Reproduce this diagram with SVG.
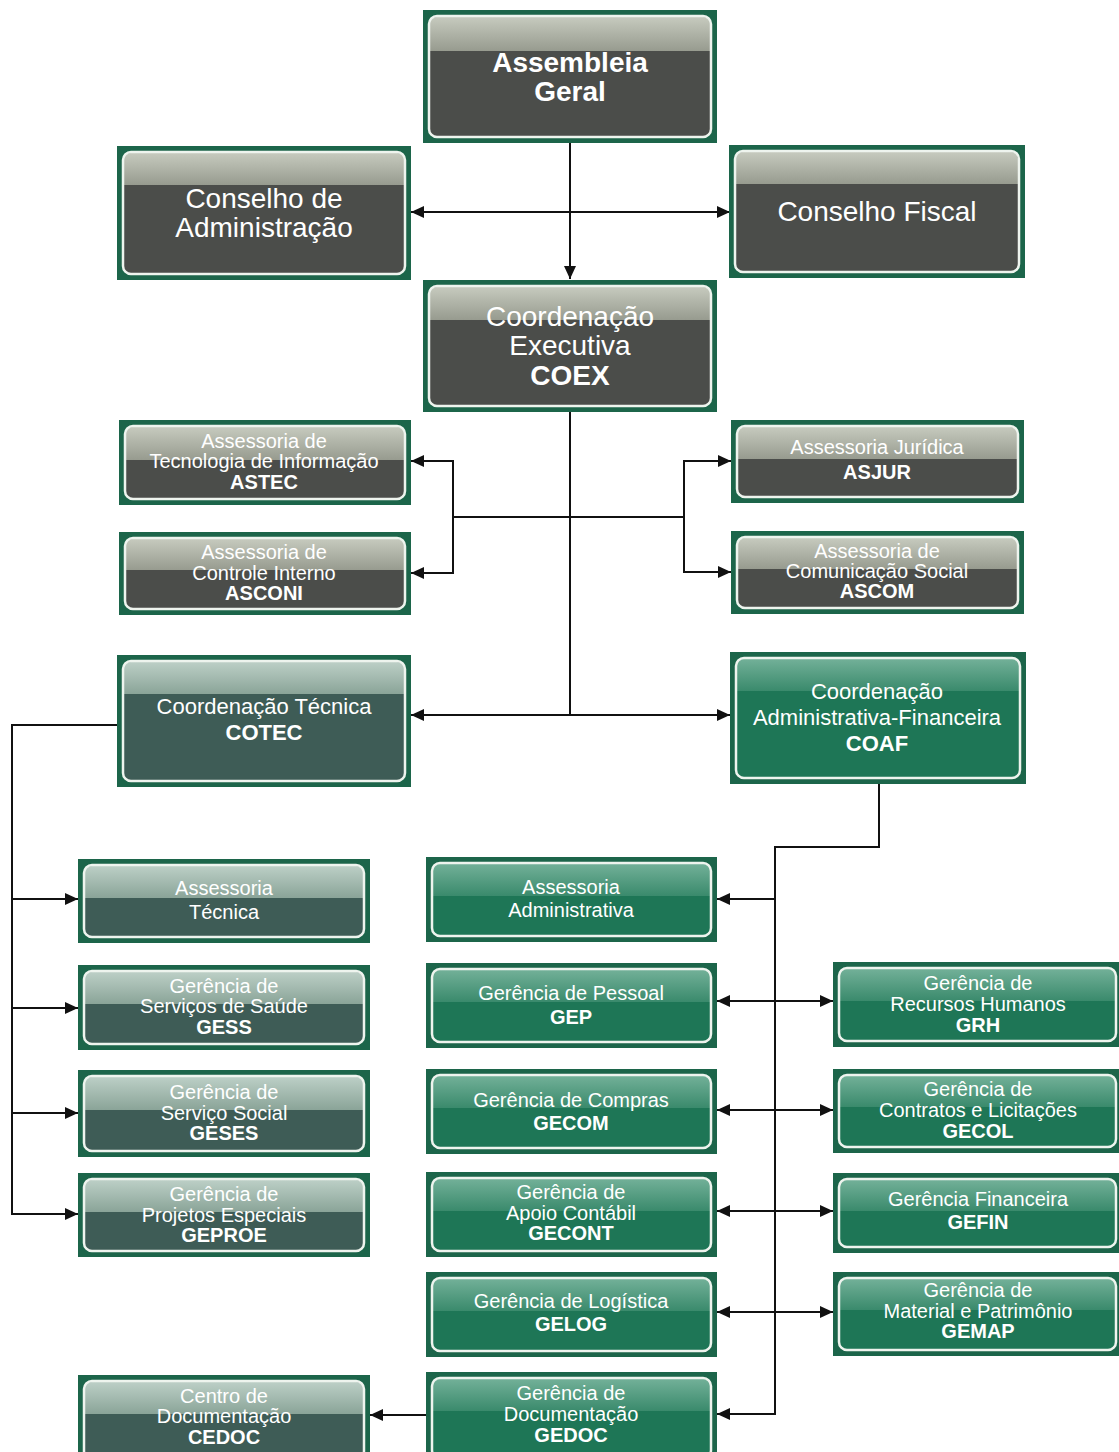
<svg xmlns="http://www.w3.org/2000/svg" width="1119" height="1452" viewBox="0 0 1119 1452">
<style>
.frame{fill:#1c654a}
.b-gray{fill:#4b4d4a}
.b-teal{fill:#3e5c56}
.b-green{fill:#1e7656}
.g-gray{fill:url(#glossGray)}
.g-teal{fill:url(#glossTeal)}
.g-green{fill:url(#glossGreen)}
.rim{fill:none;stroke:#eef4ee;stroke-width:2.5}
text{font-family:"Liberation Sans",Arial,sans-serif;fill:#ffffff;text-anchor:middle}
.big{font-size:28px}
.mid{font-size:22px}
.sm{font-size:20px}
.b{font-weight:bold}
.con{fill:none;stroke:#111;stroke-width:2}
</style>
<defs>
<linearGradient id="glossGray" x1="0" y1="0" x2="0" y2="1"><stop offset="0" stop-color="#c6cabe"/><stop offset="1" stop-color="#979b8f"/></linearGradient>
<linearGradient id="glossTeal" x1="0" y1="0" x2="0" y2="1"><stop offset="0" stop-color="#bccfc6"/><stop offset="1" stop-color="#8aa498"/></linearGradient>
<linearGradient id="glossGreen" x1="0" y1="0" x2="0" y2="1"><stop offset="0" stop-color="#72b098"/><stop offset="1" stop-color="#3a8a6c"/></linearGradient>
<marker id="arr" markerUnits="userSpaceOnUse" markerWidth="14" markerHeight="14" refX="13" refY="7" orient="auto-start-reverse"><path d="M0,1 L13,7 L0,13 Z" fill="#111"/></marker>
</defs>
<rect width="1119" height="1452" fill="#ffffff"/>

<g id="connectors">
<path class="con" d="M570,143 V279" marker-end="url(#arr)"/>
<path class="con" d="M411,212 H730" marker-start="url(#arr)" marker-end="url(#arr)"/>
<path class="con" d="M570,412 V715"/>
<path class="con" d="M411,715 H730" marker-start="url(#arr)" marker-end="url(#arr)"/>
<path class="con" d="M453,517 H684"/>
<path class="con" d="M411,461 H453 V573 H411" marker-start="url(#arr)" marker-end="url(#arr)"/>
<path class="con" d="M731,461 H684 V572 H731" marker-start="url(#arr)" marker-end="url(#arr)"/>
<path class="con" d="M117,725 H12 V1214 H78" marker-end="url(#arr)"/>
<path class="con" d="M12,899 H78" marker-end="url(#arr)"/>
<path class="con" d="M12,1008 H78" marker-end="url(#arr)"/>
<path class="con" d="M12,1113 H78" marker-end="url(#arr)"/>
<path class="con" d="M879,784 V847 H775 V1414 H717" marker-end="url(#arr)"/>
<path class="con" d="M775,899 H717" marker-end="url(#arr)"/>
<path class="con" d="M717,1001 H833" marker-start="url(#arr)" marker-end="url(#arr)"/>
<path class="con" d="M717,1110 H833" marker-start="url(#arr)" marker-end="url(#arr)"/>
<path class="con" d="M717,1211 H833" marker-start="url(#arr)" marker-end="url(#arr)"/>
<path class="con" d="M717,1312 H833" marker-start="url(#arr)" marker-end="url(#arr)"/>
<path class="con" d="M426,1415 H370" marker-end="url(#arr)"/>
</g>

<g id="assembleia">
<rect class="frame" x="423" y="10" width="294" height="133"/>
<rect class="b-gray" x="429" y="16" width="282" height="121" rx="8"/>
<path class="g-gray" d="M430,51 V24 Q430,17 437,17 H703 Q710,17 710,24 V51 Z"/>
<rect class="rim" x="429" y="16" width="282" height="121" rx="8"/>
<text class="big b" x="570" y="72">Assembleia</text>
<text class="big b" x="570" y="101">Geral</text>
</g>

<g id="conselho-adm">
<rect class="frame" x="117" y="146" width="294" height="134"/>
<rect class="b-gray" x="123" y="152" width="282" height="122" rx="8"/>
<path class="g-gray" d="M124,185 V160 Q124,153 131,153 H397 Q404,153 404,160 V185 Z"/>
<rect class="rim" x="123" y="152" width="282" height="122" rx="8"/>
<text class="big" x="264" y="208">Conselho de</text>
<text class="big" x="264" y="237">Administração</text>
</g>

<g id="conselho-fiscal">
<rect class="frame" x="729" y="145" width="296" height="133"/>
<rect class="b-gray" x="735" y="151" width="284" height="121" rx="8"/>
<path class="g-gray" d="M736,184 V159 Q736,152 743,152 H1011 Q1018,152 1018,159 V184 Z"/>
<rect class="rim" x="735" y="151" width="284" height="121" rx="8"/>
<text class="big" x="877" y="221">Conselho Fiscal</text>
</g>

<g id="coex">
<rect class="frame" x="423" y="280" width="294" height="132"/>
<rect class="b-gray" x="429" y="286" width="282" height="120" rx="8"/>
<path class="g-gray" d="M430,320 V294 Q430,287 437,287 H703 Q710,287 710,294 V320 Z"/>
<rect class="rim" x="429" y="286" width="282" height="120" rx="8"/>
<text class="big" x="570" y="326">Coordenação</text>
<text class="big" x="570" y="355">Executiva</text>
<text class="big b" x="570" y="385">COEX</text>
</g>

<g id="astec">
<rect class="frame" x="119" y="420" width="292" height="85"/>
<rect class="b-gray" x="125" y="426" width="280" height="73" rx="8"/>
<path class="g-gray" d="M126,460 V434 Q126,427 133,427 H397 Q404,427 404,434 V460 Z"/>
<rect class="rim" x="125" y="426" width="280" height="73" rx="8"/>
<text class="sm" x="264" y="448">Assessoria de</text>
<text class="sm" x="264" y="468">Tecnologia de Informação</text>
<text class="sm b" x="264" y="489">ASTEC</text>
</g>

<g id="asconi">
<rect class="frame" x="119" y="532" width="292" height="83"/>
<rect class="b-gray" x="125" y="538" width="280" height="71" rx="8"/>
<path class="g-gray" d="M126,570 V546 Q126,539 133,539 H397 Q404,539 404,546 V570 Z"/>
<rect class="rim" x="125" y="538" width="280" height="71" rx="8"/>
<text class="sm" x="264" y="559">Assessoria de</text>
<text class="sm" x="264" y="580">Controle Interno</text>
<text class="sm b" x="264" y="600">ASCONI</text>
</g>

<g id="asjur">
<rect class="frame" x="731" y="420" width="293" height="83"/>
<rect class="b-gray" x="737" y="426" width="281" height="71" rx="8"/>
<path class="g-gray" d="M738,459 V434 Q738,427 745,427 H1010 Q1017,427 1017,434 V459 Z"/>
<rect class="rim" x="737" y="426" width="281" height="71" rx="8"/>
<text class="sm" x="877" y="454">Assessoria Jurídica</text>
<text class="sm b" x="877" y="479">ASJUR</text>
</g>

<g id="ascom">
<rect class="frame" x="731" y="531" width="293" height="83"/>
<rect class="b-gray" x="737" y="537" width="281" height="71" rx="8"/>
<path class="g-gray" d="M738,569 V545 Q738,538 745,538 H1010 Q1017,538 1017,545 V569 Z"/>
<rect class="rim" x="737" y="537" width="281" height="71" rx="8"/>
<text class="sm" x="877" y="558">Assessoria de</text>
<text class="sm" x="877" y="578">Comunicação Social</text>
<text class="sm b" x="877" y="598">ASCOM</text>
</g>

<g id="cotec">
<rect class="frame" x="117" y="655" width="294" height="132"/>
<rect class="b-teal" x="123" y="661" width="282" height="120" rx="8"/>
<path class="g-teal" d="M124,694 V669 Q124,662 131,662 H397 Q404,662 404,669 V694 Z"/>
<rect class="rim" x="123" y="661" width="282" height="120" rx="8"/>
<text class="mid" x="264" y="714">Coordenação Técnica</text>
<text class="mid b" x="264" y="740">COTEC</text>
</g>

<g id="coaf">
<rect class="frame" x="730" y="652" width="296" height="132"/>
<rect class="b-green" x="736" y="658" width="284" height="120" rx="8"/>
<path class="g-green" d="M737,691 V666 Q737,659 744,659 H1012 Q1019,659 1019,666 V691 Z"/>
<rect class="rim" x="736" y="658" width="284" height="120" rx="8"/>
<text class="mid" x="877" y="699">Coordenação</text>
<text class="mid" x="877" y="725">Administrativa-Financeira</text>
<text class="mid b" x="877" y="751">COAF</text>
</g>

<g id="assessoria-tecnica">
<rect class="frame" x="78" y="859" width="292" height="84"/>
<rect class="b-teal" x="84" y="865" width="280" height="72" rx="8"/>
<path class="g-teal" d="M85,898 V873 Q85,866 92,866 H356 Q363,866 363,873 V898 Z"/>
<rect class="rim" x="84" y="865" width="280" height="72" rx="8"/>
<text class="sm" x="224" y="895">Assessoria</text>
<text class="sm" x="224" y="919">Técnica</text>
</g>

<g id="gess">
<rect class="frame" x="78" y="965" width="292" height="85"/>
<rect class="b-teal" x="84" y="971" width="280" height="73" rx="8"/>
<path class="g-teal" d="M85,1004 V979 Q85,972 92,972 H356 Q363,972 363,979 V1004 Z"/>
<rect class="rim" x="84" y="971" width="280" height="73" rx="8"/>
<text class="sm" x="224" y="993">Gerência de</text>
<text class="sm" x="224" y="1013">Serviços de Saúde</text>
<text class="sm b" x="224" y="1034">GESS</text>
</g>

<g id="geses">
<rect class="frame" x="78" y="1070" width="292" height="87"/>
<rect class="b-teal" x="84" y="1076" width="280" height="75" rx="8"/>
<path class="g-teal" d="M85,1110 V1084 Q85,1077 92,1077 H356 Q363,1077 363,1084 V1110 Z"/>
<rect class="rim" x="84" y="1076" width="280" height="75" rx="8"/>
<text class="sm" x="224" y="1099">Gerência de</text>
<text class="sm" x="224" y="1120">Serviço Social</text>
<text class="sm b" x="224" y="1140">GESES</text>
</g>

<g id="geproe">
<rect class="frame" x="78" y="1173" width="292" height="84"/>
<rect class="b-teal" x="84" y="1179" width="280" height="72" rx="8"/>
<path class="g-teal" d="M85,1212 V1187 Q85,1180 92,1180 H356 Q363,1180 363,1187 V1212 Z"/>
<rect class="rim" x="84" y="1179" width="280" height="72" rx="8"/>
<text class="sm" x="224" y="1201">Gerência de</text>
<text class="sm" x="224" y="1222">Projetos Especiais</text>
<text class="sm b" x="224" y="1242">GEPROE</text>
</g>

<g id="cedoc">
<rect class="frame" x="78" y="1375" width="292" height="90"/>
<rect class="b-teal" x="84" y="1381" width="280" height="78" rx="8"/>
<path class="g-teal" d="M85,1414 V1389 Q85,1382 92,1382 H356 Q363,1382 363,1389 V1414 Z"/>
<rect class="rim" x="84" y="1381" width="280" height="78" rx="8"/>
<text class="sm" x="224" y="1403">Centro de</text>
<text class="sm" x="224" y="1423">Documentação</text>
<text class="sm b" x="224" y="1444">CEDOC</text>
</g>

<g id="assessoria-administrativa">
<rect class="frame" x="426" y="857" width="291" height="85"/>
<rect class="b-green" x="432" y="863" width="279" height="73" rx="8"/>
<path class="g-green" d="M433,896 V871 Q433,864 440,864 H703 Q710,864 710,871 V896 Z"/>
<rect class="rim" x="432" y="863" width="279" height="73" rx="8"/>
<text class="sm" x="571" y="894">Assessoria</text>
<text class="sm" x="571" y="917">Administrativa</text>
</g>

<g id="gep">
<rect class="frame" x="426" y="963" width="291" height="85"/>
<rect class="b-green" x="432" y="969" width="279" height="73" rx="8"/>
<path class="g-green" d="M433,1002 V977 Q433,970 440,970 H703 Q710,970 710,977 V1002 Z"/>
<rect class="rim" x="432" y="969" width="279" height="73" rx="8"/>
<text class="sm" x="571" y="1000">Gerência de Pessoal</text>
<text class="sm b" x="571" y="1024">GEP</text>
</g>

<g id="gecom">
<rect class="frame" x="426" y="1069" width="291" height="85"/>
<rect class="b-green" x="432" y="1075" width="279" height="73" rx="8"/>
<path class="g-green" d="M433,1108 V1083 Q433,1076 440,1076 H703 Q710,1076 710,1083 V1108 Z"/>
<rect class="rim" x="432" y="1075" width="279" height="73" rx="8"/>
<text class="sm" x="571" y="1107">Gerência de Compras</text>
<text class="sm b" x="571" y="1130">GECOM</text>
</g>

<g id="gecont">
<rect class="frame" x="426" y="1172" width="291" height="85"/>
<rect class="b-green" x="432" y="1178" width="279" height="73" rx="8"/>
<path class="g-green" d="M433,1211 V1186 Q433,1179 440,1179 H703 Q710,1179 710,1186 V1211 Z"/>
<rect class="rim" x="432" y="1178" width="279" height="73" rx="8"/>
<text class="sm" x="571" y="1199">Gerência de</text>
<text class="sm" x="571" y="1220">Apoio Contábil</text>
<text class="sm b" x="571" y="1240">GECONT</text>
</g>

<g id="gelog">
<rect class="frame" x="426" y="1272" width="291" height="85"/>
<rect class="b-green" x="432" y="1278" width="279" height="73" rx="8"/>
<path class="g-green" d="M433,1311 V1286 Q433,1279 440,1279 H703 Q710,1279 710,1286 V1311 Z"/>
<rect class="rim" x="432" y="1278" width="279" height="73" rx="8"/>
<text class="sm" x="571" y="1308">Gerência de Logística</text>
<text class="sm b" x="571" y="1331">GELOG</text>
</g>

<g id="gedoc">
<rect class="frame" x="426" y="1372" width="291" height="92"/>
<rect class="b-green" x="432" y="1378" width="279" height="80" rx="8"/>
<path class="g-green" d="M433,1411 V1386 Q433,1379 440,1379 H703 Q710,1379 710,1386 V1411 Z"/>
<rect class="rim" x="432" y="1378" width="279" height="80" rx="8"/>
<text class="sm" x="571" y="1400">Gerência de</text>
<text class="sm" x="571" y="1421">Documentação</text>
<text class="sm b" x="571" y="1442">GEDOC</text>
</g>

<g id="grh">
<rect class="frame" x="833" y="962" width="288" height="85"/>
<rect class="b-green" x="839" y="968" width="277" height="73" rx="8"/>
<path class="g-green" d="M840,1001 V976 Q840,969 847,969 H1108 Q1115,969 1115,976 V1001 Z"/>
<rect class="rim" x="839" y="968" width="277" height="73" rx="8"/>
<text class="sm" x="978" y="990">Gerência de</text>
<text class="sm" x="978" y="1011">Recursos Humanos</text>
<text class="sm b" x="978" y="1032">GRH</text>
</g>

<g id="gecol">
<rect class="frame" x="833" y="1069" width="288" height="84"/>
<rect class="b-green" x="839" y="1075" width="277" height="72" rx="8"/>
<path class="g-green" d="M840,1107 V1083 Q840,1076 847,1076 H1108 Q1115,1076 1115,1083 V1107 Z"/>
<rect class="rim" x="839" y="1075" width="277" height="72" rx="8"/>
<text class="sm" x="978" y="1096">Gerência de</text>
<text class="sm" x="978" y="1117">Contratos e Licitações</text>
<text class="sm b" x="978" y="1138">GECOL</text>
</g>

<g id="gefin">
<rect class="frame" x="833" y="1173" width="288" height="80"/>
<rect class="b-green" x="839" y="1179" width="277" height="68" rx="8"/>
<path class="g-green" d="M840,1211 V1187 Q840,1180 847,1180 H1108 Q1115,1180 1115,1187 V1211 Z"/>
<rect class="rim" x="839" y="1179" width="277" height="68" rx="8"/>
<text class="sm" x="978" y="1206">Gerência Financeira</text>
<text class="sm b" x="978" y="1229">GEFIN</text>
</g>

<g id="gemap">
<rect class="frame" x="833" y="1272" width="288" height="84"/>
<rect class="b-green" x="839" y="1278" width="277" height="72" rx="8"/>
<path class="g-green" d="M840,1310 V1286 Q840,1279 847,1279 H1108 Q1115,1279 1115,1286 V1310 Z"/>
<rect class="rim" x="839" y="1278" width="277" height="72" rx="8"/>
<text class="sm" x="978" y="1297">Gerência de</text>
<text class="sm" x="978" y="1318">Material e Patrimônio</text>
<text class="sm b" x="978" y="1338">GEMAP</text>
</g>
</svg>
